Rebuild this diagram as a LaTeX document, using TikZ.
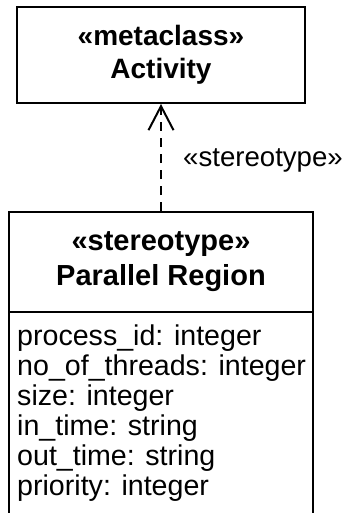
\documentclass[tikz,border=0pt]{standalone}
\usepackage{fontspec}
\setmainfont{Liberation Sans}
\usetikzlibrary{arrows.meta}
\begin{document}
\begin{tikzpicture}[x=1pt,y=-1pt,
  box/.style={draw=black, line width=2pt, fill=white, inner sep=0pt, outer sep=0pt},
  title/.style={font=\fontsize{28}{33}\selectfont\bfseries, align=center},
  bigtitle/.style={font=\fontsize{29}{35}\selectfont\bfseries, align=center},
  attr/.style={anchor=base west, inner sep=0pt, font=\fontsize{28.6}{30}\selectfont},
  dep/.style={line width=2pt, dash pattern=on 9pt off 7pt, shorten >=1pt, shorten <=1pt,
    -{Straight Barb[length=24pt,width=25pt,line width=2pt]}},
  lbl/.style={anchor=base west, inner sep=0pt, font=\fontsize{27.6}{30}\selectfont}]
\useasboundingbox[fill=white] (0,0) rectangle (345,513);
\node[box, title, minimum width=288pt, minimum height=96pt] (meta) at (161,55)
  {«metaclass»\\Activity};
\node[box, bigtitle, minimum width=304pt, minimum height=100pt] (stereo) at (161,262)
  {«stereotype»\\Parallel Region};
\node[box, anchor=north, minimum width=304pt, minimum height=230pt] (attrs) at (stereo.south) {};
\foreach \t [count=\i] in {process\_id: integer, no\_of\_threads: integer, size: integer,
    in\_time: string, out\_time: string, priority: integer}
  \node[attr] (a\i) at (17,{345+30*(\i-1)}) {\t};
\draw[dep] (stereo.north) -- (meta.south);
\node[lbl] (lab) at (183,166) {«stereotype»};
\end{tikzpicture}
\end{document}
